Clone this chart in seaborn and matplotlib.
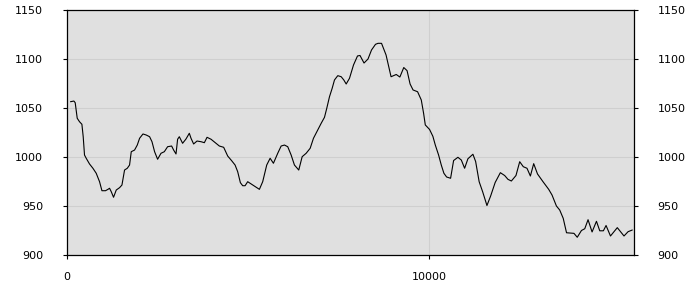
import matplotlib
matplotlib.use("Agg")
import matplotlib.pyplot as plt
import seaborn as sns
import pandas as pd

x_vals = [110, 204, 240, 296, 359, 425, 461, 497, 544, 635, 729, 820, 912, 978, 1077, 1144,
          1188, 1235, 1298, 1373, 1464, 1530, 1602, 1677, 1740, 1787, 1878, 1953, 2017, 2110,
          2202, 2293, 2359, 2431, 2514, 2608, 2699, 2790, 2901, 2956, 3022, 3066, 3113, 3204,
          3298, 3389, 3436, 3508, 3602, 3713, 3804, 3878, 3989, 4127, 4218, 4337, 4448, 4558,
          4652, 4724, 4798, 4862, 4928, 5000, 5094, 5185, 5323, 5414, 5525, 5619, 5710, 5829,
          5923, 6014, 6105, 6199, 6290, 6409, 6503, 6613, 6724, 6815, 6934, 7028, 7119, 7182,
          7257, 7331, 7395, 7486, 7580, 7652, 7718, 7809, 7920, 8030, 8099, 8210, 8320, 8417,
          8527, 8597, 8693, 8818, 8956, 9099, 9199, 9307, 9398, 9481, 9563, 9688, 9790, 9854,
          9901, 10019, 10110, 10177, 10268, 10342, 10414, 10489, 10599, 10682, 10801, 10895,
          10986, 11077, 11215, 11290, 11387, 11483, 11602, 11704, 11829, 11972, 12091, 12182,
          12276, 12403, 12506, 12605, 12707, 12801, 12892, 12997, 13149, 13306, 13398, 13519,
          13610, 13707, 13798, 14003, 14094, 14210, 14301, 14392, 14503, 14624, 14715, 14815,
          14889, 15011, 15199, 15384, 15497, 15613]
y_vals = [1056.4, 1057.1, 1055.4, 1039.5, 1036.0, 1033.4, 1020.7, 1002.0, 998.7, 992.9, 988.5,
          983.4, 974.8, 965.6, 965.6, 967.0, 968.1, 964.6, 958.9, 966.3, 968.7, 971.4, 986.7,
          988.5, 991.8, 1005.4, 1007.1, 1012.2, 1019.1, 1023.5, 1022.4, 1020.7, 1015.6, 1005.4,
          997.7, 1003.8, 1005.4, 1010.5, 1011.2, 1007.1, 1003.1, 1018.1, 1020.7, 1014.0, 1018.4,
          1024.2, 1019.1, 1013.3, 1016.3, 1015.6, 1014.6, 1020.1, 1018.1, 1014.0, 1011.2, 1009.9,
          1001.0, 996.2, 991.8, 985.0, 973.8, 970.7, 970.7, 974.8, 972.5, 970.4, 967.0, 974.8,
          991.8, 998.7, 993.6, 1003.8, 1011.2, 1012.2, 1010.5, 1002.0, 991.8, 986.7, 1000.3,
          1003.8, 1008.9, 1019.1, 1027.6, 1034.4, 1040.5, 1049.7, 1061.5, 1070.1, 1078.6, 1083.0,
          1081.9, 1078.6, 1074.5, 1080.3, 1093.9, 1103.1, 1103.6, 1095.9, 1100.0, 1109.2, 1115.0,
          1116.0, 1116.0, 1104.1, 1081.9, 1084.2, 1081.6, 1091.3, 1088.1, 1074.5, 1068.4, 1066.6,
          1058.2, 1044.6, 1032.7, 1028.1, 1021.1, 1012.2, 1002.0, 991.8, 983.4, 979.6, 978.3,
          996.4, 999.7, 996.9, 988.5, 998.2, 1002.8, 995.4, 974.8, 964.6, 950.5, 960.2, 974.0,
          984.0, 981.1, 977.2, 975.5, 981.1, 995.2, 990.1, 988.5, 980.6, 993.2, 982.7, 974.8,
          967.0, 961.2, 950.0, 945.9, 937.4, 922.7, 922.1, 918.1, 925.0, 926.8, 936.0, 923.5,
          934.4, 924.7, 924.7, 930.1, 919.4, 927.9, 919.4, 923.8, 925.5]
y_ticks = [900, 950, 1000, 1050, 1100, 1150]
x_ticks = [0, 10000]

df = pd.DataFrame({"x": x_vals, "y": y_vals})

sns.set_style("white")
plt.rcParams["font.family"] = ["DejaVu Sans"]

fig = plt.figure(figsize=(7, 3), dpi=100)
ax = fig.add_axes([66.5 / 700, 45 / 300, (634 - 66.5) / 700, 245 / 300])
ax.set_facecolor("#e0e0e0")

sns.lineplot(data=df, x="x", y="y", ax=ax, color="black", linewidth=0.8)

ax.set_xlim(0, 15660)
ax.set_ylim(900, 1150)
ax.set_xticks(x_ticks)
ax.set_yticks(y_ticks)
ax.set_xticklabels([str(v) for v in x_ticks])
ax.set_yticklabels([str(v) for v in y_ticks])
ax.grid(True, color="#cfcfcf", linewidth=0.8)
ax.set_axisbelow(True)
ax.set_xlabel("")
ax.set_ylabel("")

for s in ax.spines.values():
    s.set_visible(True)
    s.set_color("black")
    s.set_linewidth(0.9)

ax.tick_params(axis="y", which="both", left=True, right=True, labelleft=True, labelright=True,
               direction="out", length=3, width=0.8, pad=14, labelsize=8, colors="black")
ax.tick_params(axis="x", which="both", bottom=True, direction="out", length=3, width=0.8,
               pad=9, labelsize=8, colors="black")

fig.savefig("out.png", dpi=100, facecolor="white")
